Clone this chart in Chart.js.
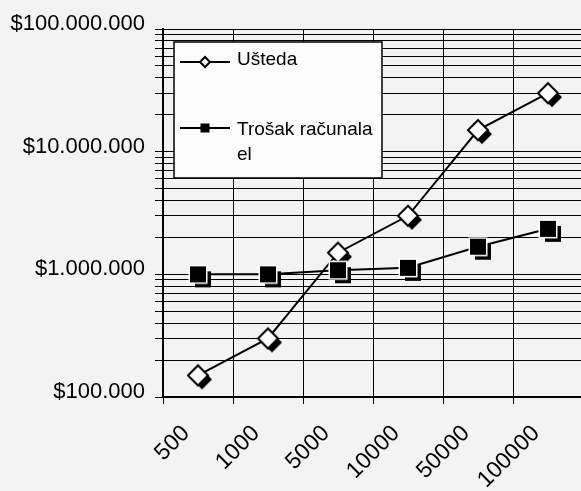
<!DOCTYPE html>
<html><head><meta charset="utf-8">
<script src="https://cdn.jsdelivr.net/npm/chart.js@4"></script>
<style>
html,body{margin:0;padding:0;background:#f3f3f3;overflow:hidden;width:581px;height:491px}
#wrap{position:absolute;left:0;top:0;width:595px;height:491px}
</style></head><body>
<div id="wrap"><canvas id="c" width="595" height="491"></canvas></div>
<script>
// ---- data ----
const categories = ['500', '1000', '5000', '10000', '50000', '100000'];
const usteda = [150000, 300000, 1500000, 3000000, 15000000, 30000000];
const trosak = [1000000, 1000000, 1080000, 1130000, 1680000, 2350000];
const seriesLabels = ['Ušteda', 'Trošak računala el'];
const yMajorTicks = [100000, 1000000, 10000000, 100000000];
const yMinorSteps = [2, 3, 4, 5, 6, 7, 8, 9];

// ---- fonts ----
const FAM = '"Liberation Sans", Arial, sans-serif';

// ---- marker images ----
function diamondImg(r, off) {
  const s = 2 * (r + off + 2), c = document.createElement('canvas');
  c.width = s; c.height = s;
  const g = c.getContext('2d'), m = s / 2;
  const path = (cx, cy) => { g.beginPath(); g.moveTo(cx, cy - r); g.lineTo(cx + r, cy); g.lineTo(cx, cy + r); g.lineTo(cx - r, cy); g.closePath(); };
  if (off) { path(m + off, m + off); g.fillStyle = '#000'; g.fill(); }
  path(m, m); g.fillStyle = '#fff'; g.fill(); g.lineWidth = 2; g.strokeStyle = '#000'; g.stroke();
  return c;
}
function squareImg(h, off, outline) {
  const s = 2 * (h + off + 2), c = document.createElement('canvas');
  c.width = s; c.height = s;
  const g = c.getContext('2d'), m = s / 2;
  g.fillStyle = '#000';
  if (off) g.fillRect(m - h + off, m - h + off, 2 * h, 2 * h);
  if (outline) { g.fillStyle = '#fff'; g.fillRect(m - h - 1.5, m - h - 1.5, 2 * h + 3, 2 * h + 3); }
  g.fillStyle = '#000'; g.fillRect(m - h, m - h, 2 * h, 2 * h);
  return c;
}
const markers = [diamondImg(10, 4), squareImg(8, 5, true)];
const legendMarkers = [diamondImg(5, 0), squareImg(4.5, 0, false)];

const fmt = v => '$' + String(Math.round(v)).replace(/\B(?=(\d{3})+(?!\d))/g, '.');

// ---- legend drawn inside the plot ----
const boxLegend = {
  id: 'boxLegend',
  afterDraw(chart) {
    const { ctx, chartArea: a } = chart;
    const x = a.left + 11, y = a.top + 13, w = 208, h = 136;
    ctx.save();
    ctx.fillStyle = '#fbfbfb'; ctx.fillRect(x, y, w, h);
    ctx.strokeStyle = '#000'; ctx.lineWidth = 1.5; ctx.strokeRect(x, y, w, h);
    ctx.font = '19px ' + FAM;
    ctx.fillStyle = '#000'; ctx.textAlign = 'left'; ctx.textBaseline = 'alphabetic';
    const rows = [{ line: 20, base: 23 }, { line: 86, base: 93 }];
    chart.data.datasets.forEach((ds, i) => {
      const r = rows[i];
      ctx.beginPath(); ctx.moveTo(x + 6, y + r.line); ctx.lineTo(x + 56, y + r.line);
      ctx.lineWidth = 2; ctx.strokeStyle = '#000'; ctx.stroke();
      const im = legendMarkers[i];
      ctx.drawImage(im, x + 31 - im.width / 2, y + r.line - im.height / 2);
      const maxW = w - 63 - 2;
      const words = ds.label.split(' ');
      const lines = []; let cur = '';
      words.forEach(wd => {
        const t = cur ? cur + ' ' + wd : wd;
        if (cur && ctx.measureText(t).width > maxW) { lines.push(cur); cur = wd; } else cur = t;
      });
      lines.push(cur);
      lines.forEach((ln, j) => ctx.fillText(ln, x + 63, y + r.base + j * 25));
    });
    ctx.restore();
  }
};

new Chart(document.getElementById('c'), {
  type: 'line',
  data: {
    labels: categories,
    datasets: [
      { label: seriesLabels[0], data: usteda, borderColor: '#000', borderWidth: 2, pointStyle: markers[0], pointRadius: 10, pointHoverRadius: 10, order: 1, tension: 0 },
      { label: seriesLabels[1], data: trosak, borderColor: '#000', borderWidth: 2, pointStyle: markers[1], pointRadius: 10, pointHoverRadius: 10, order: 0, tension: 0 }
    ]
  },
  options: {
    responsive: false, animation: false, devicePixelRatio: 1, events: [],
    layout: { padding: { top: 29, right: 0, left: 0, bottom: 0 } },
    plugins: { legend: { display: false }, tooltip: { enabled: false } },
    scales: {
      x: {
        type: 'category', offset: true,
        grid: { offset: true, color: '#000', lineWidth: 1, tickLength: 7 },
        border: { color: '#000', width: 2 },
        ticks: { color: '#000', font: { family: FAM, size: 23 }, minRotation: 45, maxRotation: 45, padding: 16, labelOffset: -12, autoSkip: false },
        afterFit(s) { s.height = 94; }
      },
      y: {
        type: 'logarithmic', min: yMajorTicks[0], max: yMajorTicks[yMajorTicks.length - 1],
        grid: { color: '#000', lineWidth: 1, tickLength: 8 },
        border: { color: '#000', width: 2 },
        afterBuildTicks(s) {
          const t = [];
          yMajorTicks.forEach((v, i) => {
            t.push({ value: v, major: true });
            if (i < yMajorTicks.length - 1) yMinorSteps.forEach(m => t.push({ value: m * v }));
          });
          s.ticks = t;
        },
        ticks: {
          color: '#000', font: { family: FAM, size: 22 }, padding: 10, labelOffset: -5, autoSkip: false,
          callback: v => yMajorTicks.includes(v) ? fmt(v) : ''
        },
        afterFit(s) { s.width = 163; }
      }
    }
  },
  plugins: [boxLegend]
});
</script>
</body></html>
